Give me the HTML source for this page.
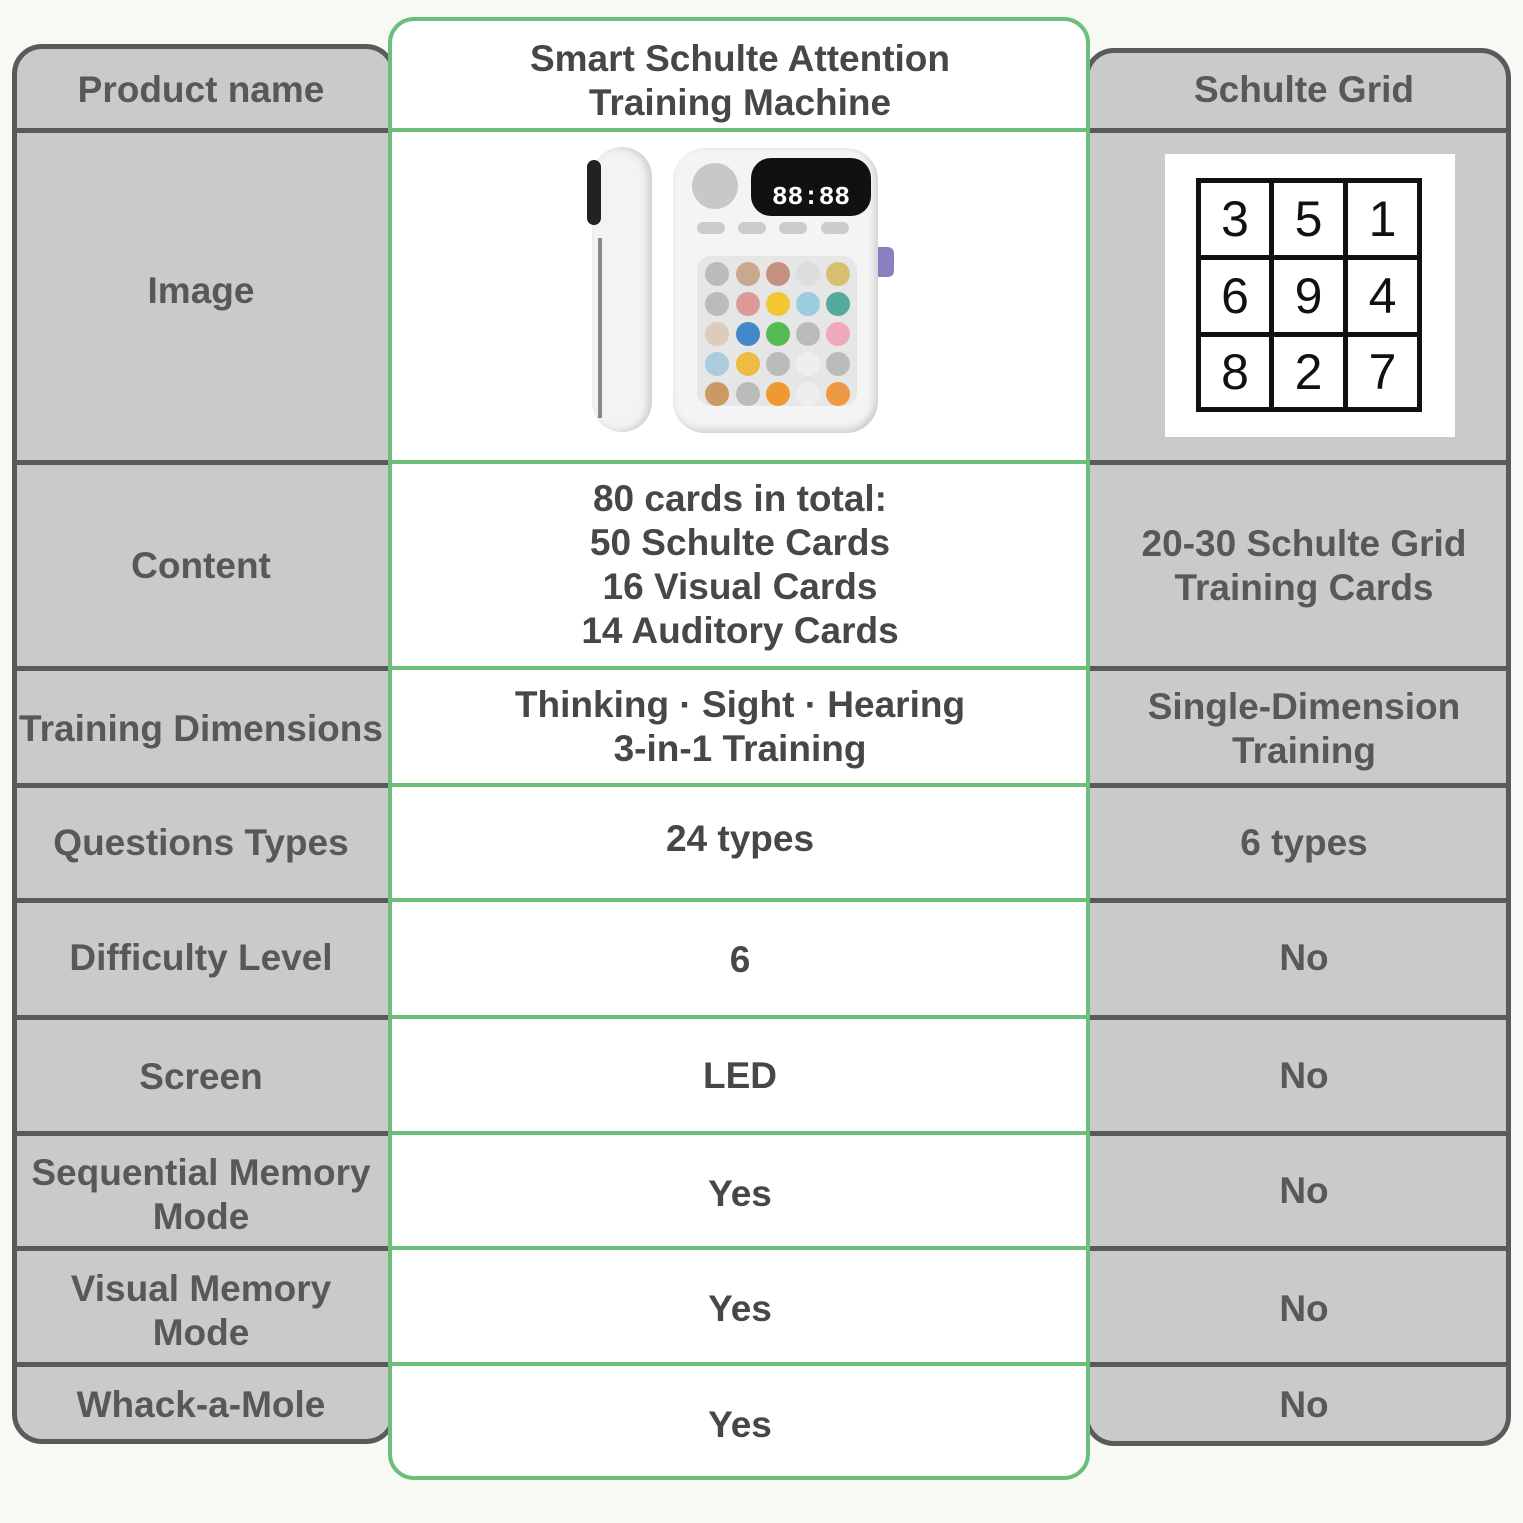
<!DOCTYPE html>
<html><head><meta charset="utf-8"><style>
body{margin:0;width:1523px;height:1523px;background:#f6f9f4;position:relative;overflow:hidden;font-family:"Liberation Sans",sans-serif;font-weight:bold}
.tbl{position:absolute;background:#cacaca;border:5px solid #5a5a5a;box-sizing:border-box;border-radius:30px}
.hl{position:absolute;height:5px;background:#5a5a5a}
.gl{position:absolute;height:4px;background:#6cbf78}
.t{position:absolute;display:flex;align-items:center;justify-content:center;text-align:center;font-size:37px;line-height:44px;color:#585858;white-space:nowrap}
.m{color:#474747}
.mid{position:absolute;left:388px;top:17px;width:702px;height:1463px;background:#fff;border:4px solid #6cbf78;box-sizing:border-box;border-radius:26px}
.cell{position:absolute;width:70px;height:70px;border:5px solid #111;box-sizing:border-box;font:400 50px "Liberation Sans",sans-serif;color:#111;display:flex;align-items:center;justify-content:center}
.btn{position:absolute;width:24px;height:24px;border-radius:50%;background:#bbb}
</style></head><body>
<div class="tbl" style="left:12px;top:44px;width:384px;height:1400px"></div>
<div class="tbl" style="left:1084px;top:48px;width:427px;height:1398px"></div>
<div class="hl" style="left:14px;top:128px;width:1495px"></div>
<div class="hl" style="left:14px;top:460px;width:1495px"></div>
<div class="hl" style="left:14px;top:666px;width:1495px"></div>
<div class="hl" style="left:14px;top:783px;width:1495px"></div>
<div class="hl" style="left:14px;top:898px;width:1495px"></div>
<div class="hl" style="left:14px;top:1015px;width:1495px"></div>
<div class="hl" style="left:14px;top:1131px;width:1495px"></div>
<div class="hl" style="left:14px;top:1246px;width:1495px"></div>
<div class="hl" style="left:14px;top:1362px;width:1495px"></div>
<div class="mid"></div>
<div class="gl" style="left:390px;top:128px;width:698px"></div>
<div class="gl" style="left:390px;top:460px;width:698px"></div>
<div class="gl" style="left:390px;top:666px;width:698px"></div>
<div class="gl" style="left:390px;top:783px;width:698px"></div>
<div class="gl" style="left:390px;top:898px;width:698px"></div>
<div class="gl" style="left:390px;top:1015px;width:698px"></div>
<div class="gl" style="left:390px;top:1131px;width:698px"></div>
<div class="gl" style="left:390px;top:1246px;width:698px"></div>
<div class="gl" style="left:390px;top:1362px;width:698px"></div>

<div class="t" style="left:12px;top:50px;width:378px;height:80px">Product name</div>
<div class="t" style="left:12px;top:133px;width:378px;height:315px">Image</div>
<div class="t" style="left:12px;top:465px;width:378px;height:201px">Content</div>
<div class="t" style="left:12px;top:673px;width:378px;height:112px">Training Dimensions</div>
<div class="t" style="left:12px;top:788px;width:378px;height:110px">Questions Types</div>
<div class="t" style="left:12px;top:903px;width:378px;height:110px">Difficulty Level</div>
<div class="t" style="left:12px;top:1020px;width:378px;height:113px">Screen</div>
<div class="t" style="left:12px;top:1140px;width:378px;height:110px">Sequential Memory<br>Mode</div>
<div class="t" style="left:12px;top:1255px;width:378px;height:111px">Visual Memory<br>Mode</div>
<div class="t" style="left:12px;top:1367px;width:378px;height:75px">Whack-a-Mole</div>

<div class="t m" style="left:390px;top:32px;width:700px;height:98px">Smart Schulte Attention<br>Training Machine</div>
<div class="t m" style="left:390px;top:470px;width:700px;height:190px">80 cards in total:<br>50 Schulte Cards<br>16 Visual Cards<br>14 Auditory Cards</div>
<div class="t m" style="left:390px;top:680px;width:700px;height:94px">Thinking · Sight · Hearing<br>3-in-1 Training</div>
<div class="t m" style="left:390px;top:788px;width:700px;height:102px">24 types</div>
<div class="t m" style="left:390px;top:905px;width:700px;height:110px">6</div>
<div class="t m" style="left:390px;top:1020px;width:700px;height:111px">LED</div>
<div class="t m" style="left:390px;top:1138px;width:700px;height:112px">Yes</div>
<div class="t m" style="left:390px;top:1253px;width:700px;height:112px">Yes</div>
<div class="t m" style="left:390px;top:1369px;width:700px;height:112px">Yes</div>

<div style="position:absolute;left:592px;top:147px;width:60px;height:285px;border-radius:30px;background:#f3f3f3;box-shadow:inset -4px 0 8px #ccc"></div>
<div style="position:absolute;left:587px;top:160px;width:14px;height:65px;border-radius:7px;background:#222"></div>
<div style="position:absolute;left:598px;top:238px;width:4px;height:180px;background:#888"></div>
<div style="position:absolute;left:872px;top:247px;width:22px;height:30px;border-radius:6px;background:#8a80c0"></div>
<div style="position:absolute;left:673px;top:148px;width:205px;height:285px;border-radius:32px;background:#f4f4f4;box-shadow:inset -3px -3px 8px #ccc"></div>
<div style="position:absolute;left:692px;top:163px;width:46px;height:46px;border-radius:50%;background:#c8c8c8"></div>
<div style="position:absolute;left:751px;top:158px;width:120px;height:58px;border-radius:20px;background:#111;color:#fff;font:700 26px 'Liberation Mono',monospace;display:flex;align-items:flex-end;justify-content:center;padding-bottom:4px;box-sizing:border-box">88:88</div>
<div style="position:absolute;left:697px;top:222px;width:28px;height:12px;border-radius:6px;background:#ccc"></div>
<div style="position:absolute;left:738px;top:222px;width:28px;height:12px;border-radius:6px;background:#ccc"></div>
<div style="position:absolute;left:779px;top:222px;width:28px;height:12px;border-radius:6px;background:#ccc"></div>
<div style="position:absolute;left:821px;top:222px;width:28px;height:12px;border-radius:6px;background:#ccc"></div>
<div style="position:absolute;left:697px;top:256px;width:160px;height:150px;border-radius:14px;background:#e6e6e6"></div>
<div class="btn" style="left:705px;top:262px"></div><div class="btn" style="left:736px;top:262px;background:#c9a890"></div><div class="btn" style="left:766px;top:262px;background:#c49080"></div><div class="btn" style="left:796px;top:262px;background:#ddd"></div><div class="btn" style="left:826px;top:262px;background:#d6c070"></div>
<div class="btn" style="left:705px;top:292px"></div><div class="btn" style="left:736px;top:292px;background:#d99"></div><div class="btn" style="left:766px;top:292px;background:#f2c830"></div><div class="btn" style="left:796px;top:292px;background:#9cd"></div><div class="btn" style="left:826px;top:292px;background:#5a9"></div>
<div class="btn" style="left:705px;top:322px;background:#dcb"></div><div class="btn" style="left:736px;top:322px;background:#48c"></div><div class="btn" style="left:766px;top:322px;background:#5b5"></div><div class="btn" style="left:796px;top:322px"></div><div class="btn" style="left:826px;top:322px;background:#eab"></div>
<div class="btn" style="left:705px;top:352px;background:#acd"></div><div class="btn" style="left:736px;top:352px;background:#eb4"></div><div class="btn" style="left:766px;top:352px"></div><div class="btn" style="left:796px;top:352px;background:#eee"></div><div class="btn" style="left:826px;top:352px"></div>
<div class="btn" style="left:705px;top:382px;background:#c96"></div><div class="btn" style="left:736px;top:382px"></div><div class="btn" style="left:766px;top:382px;background:#e93"></div><div class="btn" style="left:796px;top:382px;background:#eee"></div><div class="btn" style="left:826px;top:382px;background:#e94"></div>

<div class="t" style="left:1094px;top:50px;width:420px;height:80px">Schulte Grid</div>
<div style="position:absolute;left:1165px;top:154px;width:290px;height:283px;background:#fff"></div>
<div class="cell" style="left:1196px;top:178px;width:78px;height:82px">3</div>
<div class="cell" style="left:1269px;top:178px;width:79px;height:82px">5</div>
<div class="cell" style="left:1343px;top:178px;width:79px;height:82px">1</div>
<div class="cell" style="left:1196px;top:255px;width:78px;height:82px">6</div>
<div class="cell" style="left:1269px;top:255px;width:79px;height:82px">9</div>
<div class="cell" style="left:1343px;top:255px;width:79px;height:82px">4</div>
<div class="cell" style="left:1196px;top:332px;width:78px;height:80px">8</div>
<div class="cell" style="left:1269px;top:332px;width:79px;height:80px">2</div>
<div class="cell" style="left:1343px;top:332px;width:79px;height:80px">7</div>
<div class="t" style="left:1094px;top:465px;width:420px;height:201px">20-30 Schulte Grid<br>Training Cards</div>
<div class="t" style="left:1094px;top:673px;width:420px;height:112px">Single-Dimension<br>Training</div>
<div class="t" style="left:1094px;top:788px;width:420px;height:110px">6 types</div>
<div class="t" style="left:1094px;top:903px;width:420px;height:110px">No</div>
<div class="t" style="left:1094px;top:1020px;width:420px;height:111px">No</div>
<div class="t" style="left:1094px;top:1136px;width:420px;height:110px">No</div>
<div class="t" style="left:1094px;top:1253px;width:420px;height:111px">No</div>
<div class="t" style="left:1094px;top:1367px;width:420px;height:75px">No</div>
</body></html>
